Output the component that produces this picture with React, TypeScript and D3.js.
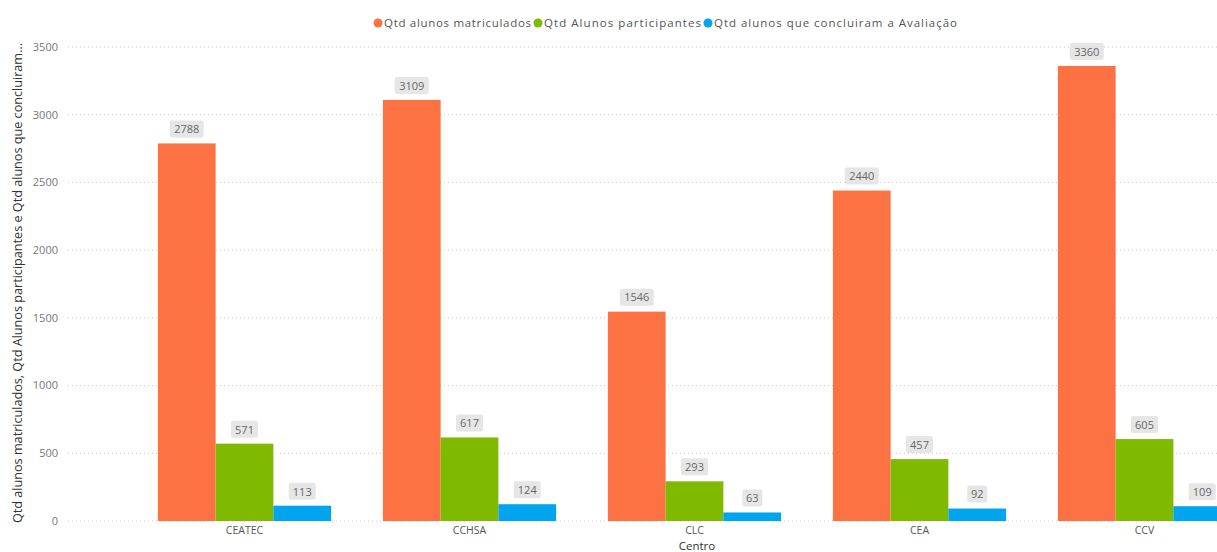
import { useEffect, useRef } from 'react';
import * as d3 from 'd3';

const centros = ['CEATEC', 'CCHSA', 'CLC', 'CEA', 'CCV'];
const matriculados = [2788, 3109, 1546, 2440, 3360];
const participantes = [571, 617, 293, 457, 605];
const concluiram = [113, 124, 63, 92, 109];
const seriesNames = ['Qtd alunos matriculados', 'Qtd Alunos participantes', 'Qtd alunos que concluiram a Avaliação'];
const seriesColors = ['#fd7243', '#7fba00', '#01a4ef'];
const yTicks = [0, 500, 1000, 1500, 2000, 2500, 3000, 3500];

export default function App() {
  const ref = useRef<SVGSVGElement>(null);

  useEffect(() => {
    document.body.style.margin = '0';
    if (!ref.current) return;
    const width = 1217;
    const svg = d3.select(ref.current);
    svg.selectAll('*').remove();
    const font = '"Open Sans", "Noto Sans", sans-serif';

    const y = d3.scaleLinear().domain([0, 3500]).range([521, 47]);
    const x0 = d3.scaleBand<string>()
      .domain(centros)
      .range([132, 132 + 225 * centros.length])
      .paddingInner(0.23)
      .paddingOuter(0.115);
    const keys = [0, 1, 2];
    const x1 = d3.scaleBand<number>().domain(keys).range([0, x0.bandwidth()]);
    const series = [matriculados, participantes, concluiram];

    // grid + y ticks
    const grid = svg.append('g');
    yTicks.forEach(t => {
      grid.append('line')
        .attr('x1', 68).attr('x2', width)
        .attr('y1', y(t)).attr('y2', y(t))
        .attr('stroke', '#c8c8c8')
        .attr('stroke-width', 1)
        .attr('stroke-dasharray', '1,3');
      grid.append('text')
        .attr('x', 58).attr('y', y(t))
        .attr('dy', '0.35em')
        .attr('text-anchor', 'end')
        .attr('font-family', font)
        .attr('font-size', 11)
        .attr('fill', '#777')
        .text(t);
    });

    // bars
    const groups = svg.selectAll('.g')
      .data(centros)
      .enter().append('g')
      .attr('transform', d => `translate(${x0(d)},0)`);

    groups.selectAll('rect')
      .data((_, i) => keys.map(k => ({ k, v: series[k][i] })))
      .enter().append('rect')
      .attr('x', d => x1(d.k)!)
      .attr('width', x1.bandwidth())
      .attr('y', d => y(d.v))
      .attr('height', d => y(0) - y(d.v))
      .attr('fill', d => seriesColors[d.k]);

    // data labels
    const labels = groups.selectAll('.lbl')
      .data((_, i) => keys.map(k => ({ k, v: series[k][i] })))
      .enter().append('g')
      .attr('transform', d => `translate(${x1(d.k)! + x1.bandwidth() / 2},${y(d.v) - 14})`);
    labels.append('rect')
      .attr('x', d => -(String(d.v).length * 7 + 6) / 2)
      .attr('y', -9)
      .attr('width', d => String(d.v).length * 7 + 6)
      .attr('height', 17)
      .attr('rx', 2)
      .attr('fill', '#e6e6e6');
    labels.append('text')
      .attr('text-anchor', 'middle')
      .attr('dy', '0.35em')
      .attr('font-family', font)
      .attr('font-size', 11)
      .attr('fill', '#666')
      .text(d => d.v);

    // category labels
    centros.forEach(c => {
      svg.append('text')
        .attr('x', x0(c)! + x0.bandwidth() / 2)
        .attr('y', 530)
        .attr('dy', '0.35em')
        .attr('text-anchor', 'middle')
        .attr('font-family', font)
        .attr('font-size', 10.5)
        .attr('fill', '#555')
        .text(c);
    });

    svg.append('text')
      .attr('x', 697).attr('y', 550)
      .attr('text-anchor', 'middle')
      .attr('font-family', font)
      .attr('font-size', 11.5)
      .attr('fill', '#333')
      .text('Centro');

    // y title
    svg.append('text')
      .attr('transform', 'translate(22,283) rotate(-90)')
      .attr('text-anchor', 'middle')
      .attr('font-family', font)
      .attr('font-size', 12)
      .attr('fill', '#333')
      .attr('textLength', 480)
      .attr('lengthAdjust', 'spacingAndGlyphs')
      .text('Qtd alunos matriculados, Qtd Alunos participantes e Qtd alunos que concluiram...');

    // legend
    const legendWidths = [147, 157, 243];
    const legend = svg.append('g');
    let lx = 378;
    seriesNames.forEach((name, i) => {
      legend.append('circle')
        .attr('cx', lx).attr('cy', 23).attr('r', 4.5)
        .attr('fill', seriesColors[i]);
      legend.append('text')
        .attr('x', lx + 6).attr('y', 23)
        .attr('dy', '0.35em')
        .attr('font-family', font)
        .attr('font-size', 11.5)
        .attr('textLength', legendWidths[i])
        .attr('lengthAdjust', 'spacing')
        .attr('fill', '#555')
        .text(name);
      lx += legendWidths[i] + 13;
    });
  }, []);

  return <svg ref={ref} width={1217} height={552} style={{ display: 'block', background: '#fff' }} />;
}
